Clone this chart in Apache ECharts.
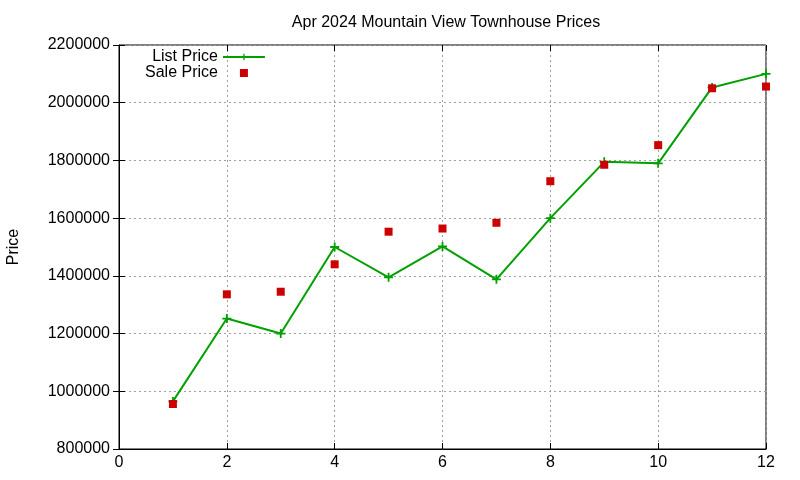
<!DOCTYPE html>
<html>
<head>
<meta charset="utf-8">
<script src="https://cdn.jsdelivr.net/npm/echarts@6/dist/echarts.min.js"></script>
<style>
  html, body { margin: 0; padding: 0; background: #fff; }
  #chart { width: 800px; height: 480px; }
</style>
</head>
<body>
<div id="chart"></div>
<script>
// month index (x) and prices
var xValues = [1, 2, 3, 4, 5, 6, 7, 8, 9, 10, 11, 12];
var listPrice = [965000, 1252000, 1200000, 1500000, 1395000, 1502000, 1388000, 1600000, 1795000, 1790000, 2053000, 2100000];
var salePrice = [956000, 1336000, 1345000, 1440000, 1553000, 1564000, 1584000, 1728000, 1785000, 1853000, 2050000, 2056000];

var FONT = 'Liberation Sans, Arial, sans-serif';
var GREEN = '#00a000', RED = '#cc0000';
var plus = 'path://M-2,-10 L2,-10 L2,-2 L10,-2 L10,2 L2,2 L2,10 L-2,10 L-2,2 L-10,2 L-10,-2 L-2,-2 Z';
var square = 'path://M0,0 L10,0 L10,10 L0,10 Z';

function pairs(ys){
	var out = [];
	for (var i = 0; i < xValues.length; i++) out.push([xValues[i], ys[i]]);
	return out;
}

var gridLine = { show: true, lineStyle: { color: '#a0a0a0', type: [2, 3], width: 1 } };
var tickIn = { show: true, inside: true, length: 6, lineStyle: { color: '#000' } };

var myChart = echarts.init(document.getElementById('chart'));
var option = {
	animation: false,
	backgroundColor: '#fff',
	title: {
		text: 'Apr 2024 Mountain View Townhouse Prices',
		left: 441,
		textAlign: 'center',
		top: 10,
		textStyle: { fontFamily: FONT, fontSize: 16, fontWeight: 'normal', color: '#000' }
	},
	legend: {
		orient: 'vertical',
		left: 140,
		top: 44,
		align: 'right',
		itemGap: 0,
		itemWidth: 42,
		itemHeight: 8,
		textStyle: { fontFamily: FONT, fontSize: 16, color: '#000', lineHeight: 16 },
		data: ['List Price', 'Sale Price']
	},
	grid: {
		left: 119, right: 34, top: 45, bottom: 31,
		outerBoundsMode: 'none',
		show: true, borderColor: '#000', borderWidth: 1
	},
	xAxis: [{
		type: 'value', min: 0, max: 12, interval: 2,
		axisLine: { show: true, lineStyle: { color: '#000' } },
		axisTick: tickIn,
		axisLabel: { fontFamily: FONT, fontSize: 16, color: '#000', margin: 6 },
		splitLine: gridLine
	}, {
		type: 'value', position: 'top', min: 0, max: 12, interval: 2,
		axisLine: { show: false }, axisTick: tickIn,
		axisLabel: { show: false }, splitLine: { show: false }
	}],
	yAxis: [{
		type: 'value', min: 800000, max: 2200000, interval: 200000,
		name: 'Price', nameLocation: 'middle', nameGap: 97,
		nameTextStyle: { fontFamily: FONT, fontSize: 16, color: '#000' },
		axisLine: { show: true, lineStyle: { color: '#000' } },
		axisTick: tickIn,
		axisLabel: { fontFamily: FONT, fontSize: 16, color: '#000', margin: 9,
			formatter: function(v){ return String(v); } },
		splitLine: gridLine
	}, {
		type: 'value', position: 'right', min: 800000, max: 2200000, interval: 200000,
		axisLine: { show: false }, axisTick: tickIn,
		axisLabel: { show: false }, splitLine: { show: false }
	}],
	series: [{
		name: 'List Price',
		type: 'line',
		data: pairs(listPrice),
		symbol: plus,
		symbolSize: 9,
		lineStyle: { color: GREEN, width: 2 },
		itemStyle: { color: GREEN, opacity: 1 },
		z: 2
	}, {
		name: 'Sale Price',
		type: 'scatter',
		data: pairs(salePrice),
		symbol: square,
		symbolSize: 8,
		symbolKeepAspect: true,
		itemStyle: { color: RED, opacity: 1 },
		z: 3
	}]
};
if (option && typeof option === "object") {
	myChart.setOption(option, true);
}
</script>
</body>
</html>
